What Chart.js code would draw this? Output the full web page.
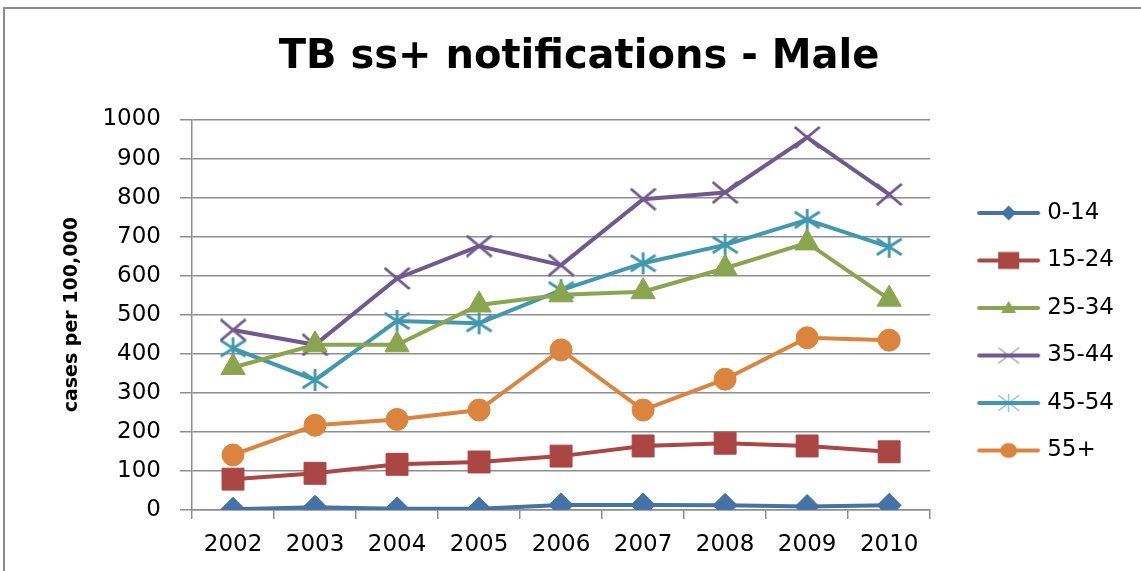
<!DOCTYPE html>
<html>
<head>
<meta charset="utf-8">
<title>TB ss+ notifications - Male</title>
<script src="https://cdn.jsdelivr.net/npm/chart.js@4/dist/chart.umd.min.js"></script>
<style>
  html, body { margin: 0; padding: 0; background: #fff; }
  body { position: relative; width: 1141px; height: 571px; overflow: hidden; }
  #frame { position: absolute; left: 3px; top: 7px; width: 1200px; height: 700px; border: 2px solid #8c8c8c; }
  #wrap { position: absolute; left: 0; top: 0; width: 1141px; height: 571px; }
</style>
</head>
<body>
<div id="frame"></div>
<div id="wrap"><canvas id="chart"></canvas></div>
<script>
const years = ['2002', '2003', '2004', '2005', '2006', '2007', '2008', '2009', '2010'];
const ageGroups = ['0-14', '15-24', '25-34', '35-44', '45-54', '55+'];

const age0to14 = [2, 7, 3, 3, 13, 13, 12, 9, 12];
const age15to24 = [79, 94, 117, 123, 138, 164, 171, 164, 149];
const age25to34 = [365, 423, 423, 525, 551, 559, 619, 684, 540];
const age35to44 = [461, 423, 593, 676, 627, 796, 813, 954, 808];
const age45to54 = [414, 333, 484, 478, 563, 632, 679, 743, 674];
const age55plus = [141, 217, 232, 256, 410, 256, 335, 441, 435];

const yTicks = [0, 100, 200, 300, 400, 500, 600, 700, 800, 900, 1000];

const colors = ['#4572A7', '#AA4643', '#89A54E', '#71588F', '#4198AF', '#DB843D'];

// small canvases used as point styles (x marker and asterisk)
function markerCanvas(w, h, color, lw, paths) {
  const c = document.createElement('canvas');
  c.width = w;
  c.height = h;
  const g = c.getContext('2d');
  g.strokeStyle = color;
  g.lineWidth = lw;
  g.beginPath();
  paths.forEach(p => {
    g.moveTo(p[0], p[1]);
    g.lineTo(p[2], p[3]);
  });
  g.stroke();
  return c;
}

const xMarker = markerCanvas(27, 23, colors[3], 2.8, [[1, 1, 26, 22], [1, 22, 26, 1]]);
const starMarker = markerCanvas(27, 24, colors[4], 2.8, [[13.5, 1, 13.5, 23], [1, 4, 26, 20], [1, 20, 26, 4]]);

// legend icons: a line with the marker in the middle
function legendIcon(color, marker) {
  const c = document.createElement('canvas');
  c.width = 94;
  c.height = 30;
  const g = c.getContext('2d');
  g.strokeStyle = color;
  g.fillStyle = color;
  g.lineWidth = 4;
  g.lineCap = 'round';
  g.beginPath();
  g.moveTo(31, 15);
  g.lineTo(90, 15);
  g.stroke();
  const cx = 60.5, cy = 15;
  g.beginPath();
  if (marker === 'diamond') {
    g.moveTo(cx - 7.5, cy); g.lineTo(cx, cy - 7.5); g.lineTo(cx + 7.5, cy); g.lineTo(cx, cy + 7.5);
    g.closePath(); g.fill();
  } else if (marker === 'square') {
    g.rect(cx - 10.5, cy - 8.5, 21, 17); g.fill();
  } else if (marker === 'triangle') {
    g.moveTo(cx, cy - 7); g.lineTo(cx + 7.5, cy + 5); g.lineTo(cx - 7.5, cy + 5);
    g.closePath(); g.fill();
  } else if (marker === 'circle') {
    g.ellipse(cx, cy, 8.5, 7.5, 0, 0, Math.PI * 2); g.fill();
  } else {
    g.strokeStyle = color;
    g.globalAlpha = 0.6;
    g.lineWidth = 1.4;
    g.moveTo(cx - 10, cy - 7.5); g.lineTo(cx + 10, cy + 7.5);
    g.moveTo(cx - 10, cy + 7.5); g.lineTo(cx + 10, cy - 7.5);
    if (marker === 'star') {
      g.moveTo(cx, cy - 8.5); g.lineTo(cx, cy + 8.5);
    }
    g.stroke();
  }
  return c;
}

const legendIcons = [
  legendIcon(colors[0], 'diamond'),
  legendIcon(colors[1], 'square'),
  legendIcon(colors[2], 'triangle'),
  legendIcon(colors[3], 'x'),
  legendIcon(colors[4], 'star'),
  legendIcon(colors[5], 'circle'),
];

function createChart() {
  const ctx = document.getElementById('chart').getContext('2d');
  const gridColor = '#8e8e8e';
  const tickFont = { family: 'DejaVu Sans', size: 23 };

  const graphData = {
    labels: years,
    datasets: [
      { label: ageGroups[0], data: age0to14, borderColor: colors[0], backgroundColor: colors[0],
        pointStyle: 'rectRot', pointRadius: 12 },
      { label: ageGroups[1], data: age15to24, borderColor: colors[1], backgroundColor: colors[1],
        pointStyle: 'rect', pointRadius: 15.5 },
      { label: ageGroups[2], data: age25to34, borderColor: colors[2], backgroundColor: colors[2],
        pointStyle: 'triangle', pointRadius: 14 },
      { label: ageGroups[3], data: age35to44, borderColor: colors[3], backgroundColor: colors[3],
        pointStyle: xMarker, pointRadius: 12 },
      { label: ageGroups[4], data: age45to54, borderColor: colors[4], backgroundColor: colors[4],
        pointStyle: starMarker, pointRadius: 12 },
      { label: ageGroups[5], data: age55plus, borderColor: colors[5], backgroundColor: colors[5],
        pointStyle: 'circle', pointRadius: 11 },
    ],
  };

  const config = {
    type: 'line',
    data: graphData,
    options: {
      responsive: true,
      maintainAspectRatio: false,
      animation: false,
      layout: { padding: { left: 34, right: 17, top: 0, bottom: 0 } },
      elements: {
        line: { borderWidth: 4, tension: 0 },
        point: { borderWidth: 1 },
      },
      plugins: {
        tooltip: { enabled: false },
        title: {
          display: true,
          text: 'TB ss+ notifications - Male',
          color: '#000',
          font: { family: 'DejaVu Sans', size: 40, weight: 'bold' },
          padding: { top: 33.5, bottom: 38 },
        },
        legend: {
          position: 'right',
          fullSize: false,
          title: { display: true, text: '', font: { size: 10 }, padding: { top: 22, bottom: 0 } },
          labels: {
            usePointStyle: true,
            pointStyleWidth: 81,
            padding: 24.5,
            color: '#000',
            font: tickFont,
            generateLabels: chart => {
              const items = Chart.defaults.plugins.legend.labels.generateLabels(chart);
              items.forEach((item, i) => { item.pointStyle = legendIcons[i]; });
              return items;
            },
          },
        },
      },
      scales: {
        x: {
          offset: true,
          afterFit: scale => { scale.height = 61; },
          grid: { offset: true, drawOnChartArea: false, drawTicks: true, tickLength: 9, color: gridColor, lineWidth: 1.5 },
          border: { color: gridColor, width: 1.5 },
          ticks: { color: '#000', font: tickFont, padding: 12, maxRotation: 0 },
        },
        y: {
          min: 0,
          max: 1000,
          afterFit: scale => { scale.width = 158; },
          afterBuildTicks: scale => { scale.ticks = yTicks.map(v => ({ value: v })); },
          grid: { color: gridColor, lineWidth: 1.5, tickLength: 12 },
          border: { color: gridColor, width: 1.5 },
          ticks: { color: '#000', font: tickFont, padding: 19, callback: value => String(value) },
          title: {
            display: true,
            text: 'cases per 100,000',
            color: '#000',
            font: { family: 'DejaVu Sans', size: 19, weight: 'bold' },
            padding: { top: 26.6, bottom: 0 },
          },
        },
      },
    },
  };

  return new Chart(ctx, config);
}

createChart();
</script>
</body>
</html>
